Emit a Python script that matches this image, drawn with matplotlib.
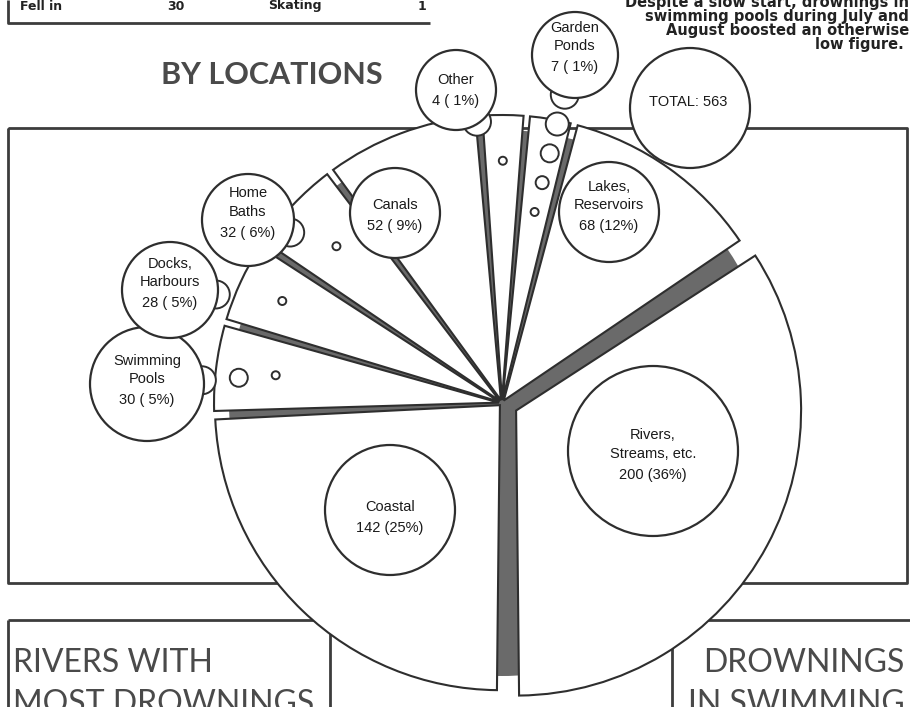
import numpy as np
import matplotlib.pyplot as plt
from matplotlib.patches import Wedge, Circle

plt.rcParams['font.family'] = ['Liberation Sans', 'DejaVu Sans']

# drownings by location (clockwise from the top right)
locations = ['Rivers,\nStreams, etc.', 'Coastal', 'Swimming\nPools', 'Docks,\nHarbours',
             'Home\nBaths', 'Canals', 'Other', 'Garden\nPonds', 'Lakes,\nReservoirs']
drownings = [200, 142, 30, 28, 32, 52, 4, 7, 68]

top_row = ['Fell in', '30', 'Skating', '1']
note = ['Despite a slow start, drownings in', 'swimming pools during July and',
        'August boosted an otherwise', 'low figure.']

# layout of the label circles (pixels, y down)
label_pos = [(653, 451), (390, 510), (147, 384), (170, 290), (248, 220),
             (395, 213), (456, 90), (575, 55), (609, 212)]
label_rad = [85, 65, 57, 48, 46, 45, 40, 43, 50]
n_bubbles = [0, 0, 3, 2, 2, 0, 2, 5, 0]
bubble_from = [0, 0, 0.8, 0.85, 0.8, 0, 0.85, 0.68, 0]
explode = [16, 3, 3, 3, 3, 3, 3, 3, 3]

W, H = 910, 707
fig = plt.figure(figsize=(W / 100, H / 100), dpi=100)
ax = fig.add_axes([0, 0, 1, 1])
ax.set_xlim(0, W)
ax.set_ylim(H, 0)
ax.axis('off')

ink = '#2e2e2e'
box = dict(color='#3c3c3c', lw=2, solid_capstyle='butt', zorder=1)

# boxes of the page
ax.plot([8, 8, 430], [0, 23, 23], **box)
ax.plot([8, 907, 907, 8, 8], [128, 128, 583, 583, 128], **box)
ax.plot([8, 8], [620, 707], **box)
ax.plot([8, 330], [620, 620], **box)
ax.plot([330, 330], [620, 707], **box)
ax.plot([672, 910], [620, 620], **box)
ax.plot([672, 672], [620, 707], **box)

for x, t in zip([20, 167, 268, 418], top_row):
    ax.text(x, 6, t, family='DejaVu Sans', fontsize=9, fontweight='bold', color='#222', va='center')

for y, t in zip([3, 17, 31, 45], note):
    ax.text(909 if t != 'low figure.' else 904, y, t, family='DejaVu Sans', fontsize=10.5,
            fontweight='bold', color='#222', ha='right', va='center')

ax.text(272, 75, 'BY LOCATIONS', family='Lato', fontsize=22, fontweight='bold',
        color='#4a4a4a', ha='center', va='center')
ax.text(13, 663, 'RIVERS WITH', family='Lato', fontsize=23, color='#4a4a4a', va='center')
ax.text(13, 704, 'MOST DROWNINGS', family='Lato', fontsize=23, color='#4a4a4a', va='center')
ax.text(905, 663, 'DROWNINGS', family='Lato', fontsize=23, color='#4a4a4a', ha='right', va='center')
ax.text(905, 704, 'IN SWIMMING', family='Lato', fontsize=23, color='#4a4a4a', ha='right', va='center')

# pie: angles from the counts, tiny slices get a minimum width so they can be seen
cx, cy, R = 502, 403, 285
total = sum(drownings)
vals = np.array(drownings, dtype=float)
min_span = 9.5
small = vals / total * 360 < min_span
spans = np.where(small, min_span, vals / vals[~small].sum() * (360 - min_span * small.sum()))
bounds = -90 + spans[0] - np.concatenate([[0], np.cumsum(spans)])
gap = 1.2

ax.add_patch(Circle((cx, cy), R - 12, fc='#6a6a6a', ec='none', zorder=2))

mids = []
for i in range(len(vals)):
    a0, a1 = bounds[i + 1] + gap / 2, bounds[i] - gap / 2
    mid = np.radians((a0 + a1) / 2)
    mids.append(mid)
    ox, oy = explode[i] * np.cos(mid), -explode[i] * np.sin(mid)
    ax.add_patch(Wedge((cx + ox, cy + oy), R, -a1, -a0, fc='white', ec=ink, lw=1.5, zorder=3))

# label circles and thought-bubble chains
for i, name in enumerate(locations):
    lx, ly = label_pos[i]
    r = label_rad[i]
    if n_bubbles[i]:
        d = bubble_from[i] * R
        axx, ayy = cx + d * np.cos(mids[i]), cy - d * np.sin(mids[i])
        u = np.array([lx - axx, ly - ayy])
        u = u / np.hypot(*u)
        rads = np.linspace(4, 14, n_bubbles[i])
        ex, ey = lx - u[0] * (r - 2), ly - u[1] * (r - 2)
        for f, br in zip(np.linspace(0, 1, n_bubbles[i]), rads):
            ax.add_patch(Circle((axx + (ex - axx) * f, ayy + (ey - ayy) * f), br,
                                fc='white', ec=ink, lw=1.4, zorder=5))
    ax.add_patch(Circle((lx, ly), r, fc='white', ec=ink, lw=1.6, zorder=6))
    pct = round(drownings[i] / total * 100)
    ny = ly + 0.28 * r
    ax.text(lx, ny, f'{drownings[i]} ({pct:2d}%)', fontsize=10.5, color='#1a1a1a',
            ha='center', va='center', zorder=7)
    ax.text(lx, ny - 14, name, fontsize=10.5, color='#1a1a1a', ha='center', va='bottom',
            linespacing=1.4, zorder=7)

ax.add_patch(Circle((690, 108), 60, fc='white', ec=ink, lw=1.6, zorder=6))
ax.text(688, 102, f'TOTAL: {total}', fontsize=10.5, color='#1a1a1a', ha='center', va='center', zorder=7)

fig.savefig('out.png', dpi=100)
